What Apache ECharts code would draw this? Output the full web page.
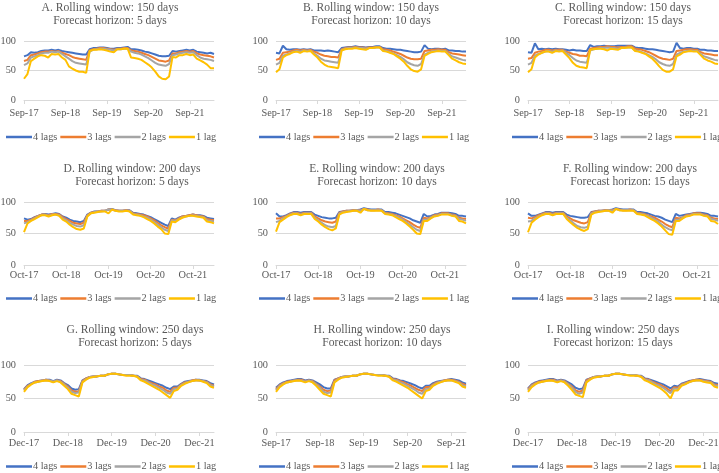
<!DOCTYPE html>
<html><head><meta charset="utf-8">
<script src="https://cdn.jsdelivr.net/npm/echarts@6/dist/echarts.min.js"></script>
<style>html,body{margin:0;padding:0;background:#fff}#c{width:719px;height:473px}</style>
</head><body><div id="c"></div>
<script>
// ---- Categories (monthly) ----
const catSep17 = ["Sep-17","Oct-17","Nov-17","Dec-17",
 "Jan-18","Feb-18","Mar-18","Apr-18","May-18","Jun-18","Jul-18","Aug-18","Sep-18","Oct-18","Nov-18","Dec-18",
 "Jan-19","Feb-19","Mar-19","Apr-19","May-19","Jun-19","Jul-19","Aug-19","Sep-19","Oct-19","Nov-19","Dec-19",
 "Jan-20","Feb-20","Mar-20","Apr-20","May-20","Jun-20","Jul-20","Aug-20","Sep-20","Oct-20","Nov-20","Dec-20",
 "Jan-21","Feb-21","Mar-21","Apr-21","May-21","Jun-21","Jul-21","Aug-21","Sep-21","Oct-21","Nov-21","Dec-21",
 "Jan-22","Feb-22","Mar-22","Apr-22"];
const catOct17 = ["Oct-17","Nov-17","Dec-17",
 "Jan-18","Feb-18","Mar-18","Apr-18","May-18","Jun-18","Jul-18","Aug-18","Sep-18","Oct-18","Nov-18","Dec-18",
 "Jan-19","Feb-19","Mar-19","Apr-19","May-19","Jun-19","Jul-19","Aug-19","Sep-19","Oct-19","Nov-19","Dec-19",
 "Jan-20","Feb-20","Mar-20","Apr-20","May-20","Jun-20","Jul-20","Aug-20","Sep-20","Oct-20","Nov-20","Dec-20",
 "Jan-21","Feb-21","Mar-21","Apr-21","May-21","Jun-21","Jul-21","Aug-21","Sep-21","Oct-21","Nov-21","Dec-21",
 "Jan-22","Feb-22","Mar-22","Apr-22"];
const catDec17 = ["Dec-17",
 "Jan-18","Feb-18","Mar-18","Apr-18","May-18","Jun-18","Jul-18","Aug-18","Sep-18","Oct-18","Nov-18","Dec-18",
 "Jan-19","Feb-19","Mar-19","Apr-19","May-19","Jun-19","Jul-19","Aug-19","Sep-19","Oct-19","Nov-19","Dec-19",
 "Jan-20","Feb-20","Mar-20","Apr-20","May-20","Jun-20","Jul-20","Aug-20","Sep-20","Oct-20","Nov-20","Dec-20",
 "Jan-21","Feb-21","Mar-21","Apr-21","May-21","Jun-21","Jul-21","Aug-21","Sep-21","Oct-21","Nov-21","Dec-21",
 "Jan-22","Feb-22","Mar-22","Apr-22"];
const catSep17H = ["Sep-17","Oct-17","Nov-17","Dec-17",
 "Jan-18","Feb-18","Mar-18","Apr-18","May-18","Jun-18","Jul-18","Aug-18","Sep-18","Oct-18","Nov-18","Dec-18",
 "Jan-19","Feb-19","Mar-19","Apr-19","May-19","Jun-19","Jul-19","Aug-19","Sep-19","Oct-19","Nov-19","Dec-19",
 "Jan-20","Feb-20","Mar-20","Apr-20","May-20","Jun-20","Jul-20","Aug-20","Sep-20","Oct-20","Nov-20","Dec-20",
 "Jan-21","Feb-21","Mar-21","Apr-21","May-21","Jun-21","Jul-21","Aug-21","Sep-21","Oct-21","Nov-21","Dec-21",
 "Jan-22"];

const seriesNames = ["4 lags","3 lags","2 lags","1 lag"];
const panelTitles = [
 "A. Rolling window: 150 days\nForecast horizon: 5 days",
 "B. Rolling window: 150 days\nForecast horizon: 10 days",
 "C. Rolling window: 150 days\nForecast horizon: 15 days",
 "D. Rolling window: 200 days\nForecast horizon: 5 days",
 "E. Rolling window: 200 days\nForecast horizon: 10 days",
 "F. Rolling window: 200 days\nForecast horizon: 15 days",
 "G. Rolling window: 250 days\nForecast horizon: 5 days",
 "H. Rolling window: 250 days\nForecast horizon: 10 days",
 "I. Rolling window: 250 days\nForecast horizon: 15 days"];
const yTicks = [0, 50, 100];

// ---- Values (accuracy %) ----
const A4 = [74,76,81,80,81,83,84,84,85,84, 85,83,82,81,80,79,78,77,77,86, 88,88,89,89,88,87,87,88,88,89, 90,86,86,85,84,82,81,79,77,75, 74,74,75,83,82,83,84,85,84,85, 82,81,80,79,80,78];
const A3 = [66,68,76,77,79,81,82,82,83,82, 83,80,78,76,73,71,70,69,68,84, 86,87,88,88,87,86,85,87,87,88, 88,84,83,82,80,78,76,73,70,67, 66,65,67,79,79,81,82,83,82,83, 79,77,76,75,74,72];
const A2 = [59,62,72,74,76,79,80,80,82,81, 82,78,74,70,66,63,62,61,60,82, 85,86,87,87,86,85,84,86,86,87, 87,82,80,79,77,74,71,67,63,60, 59,58,61,76,77,79,80,81,80,81, 76,72,70,69,68,66];
const A1 = [36,44,66,70,74,76,75,72,78,77, 78,72,68,57,53,50,48,48,46,83, 85,85,86,85,84,82,81,86,86,87, 87,72,71,70,68,64,60,55,48,40, 36,35,40,73,72,76,76,78,76,77, 70,67,64,60,54,54];

const B4 = [80,79,92,86,85,86,86,85,86,85, 86,84,84,84,83,84,83,82,81,88, 89,90,90,91,90,90,89,90,90,91, 91,88,87,87,86,85,85,84,83,82, 81,81,82,93,87,86,87,87,86,87, 84,84,83,83,82,82];
const B3 = [68,70,80,81,82,84,85,84,85,84, 85,82,80,77,75,74,73,73,72,86, 88,89,89,90,89,89,88,89,89,90, 90,86,85,84,82,80,78,75,72,70, 69,69,70,83,84,85,85,86,85,85, 81,79,78,77,76,75];
const B2 = [60,63,75,77,79,82,83,82,84,83, 84,79,75,70,67,66,65,64,63,85, 87,88,88,89,88,88,87,88,88,89, 89,84,83,81,79,76,73,69,64,61, 59,58,61,77,80,82,83,84,83,83, 78,74,72,70,68,67];
const B1 = [47,52,72,76,78,81,82,80,83,82, 83,77,72,65,60,57,56,55,54,84, 86,87,87,88,87,86,85,88,88,89, 89,83,82,80,78,74,70,65,58,52, 49,48,52,75,78,81,82,83,82,82, 76,70,67,64,62,61];

const C4 = [81,80,96,86,87,86,87,86,87,86, 86,85,84,85,84,84,83,83,93,90, 91,91,92,91,91,91,92,92,92,92, 92,89,88,88,87,86,86,85,84,83, 82,81,82,97,88,87,88,88,87,87, 85,85,84,84,83,83];
const C3 = [70,71,80,82,83,85,85,84,85,85, 85,82,80,78,77,75,75,74,87,88, 89,90,90,91,90,90,89,90,90,91, 91,87,86,85,83,81,78,75,72,70, 69,68,70,83,84,85,86,86,85,85, 81,79,78,77,76,76];
const C2 = [60,63,75,78,80,82,83,82,84,83, 84,80,76,71,67,65,64,63,84,86, 87,88,88,89,88,88,87,88,89,89, 89,84,83,81,79,76,73,69,64,61, 59,58,61,77,80,82,83,84,83,83, 78,74,72,70,68,67];
const C1 = [47,52,72,77,80,82,82,80,83,82, 83,77,71,63,58,56,55,54,85,86, 87,87,86,84,87,86,85,88,88,89, 89,83,82,80,78,74,70,64,57,51, 48,48,52,74,77,81,82,83,82,82, 76,70,67,65,62,61];

const D4 = [74,72,73,76,78,80,81,80,81,82, 81,77,75,72,70,69,68,70,80,83, 85,85,86,86,88,89,87,86,86,87, 87,83,82,81,80,78,76,73,70,67, 64,62,74,72,75,77,78,79,80,79, 79,78,75,74,73];
const D3 = [70,70,72,75,78,80,80,79,81,81, 80,76,73,70,67,66,65,67,79,83, 84,85,86,86,88,88,87,86,86,87, 86,82,81,80,79,77,74,71,67,63, 60,58,72,71,74,77,78,79,80,79, 78,77,73,72,71];
const D2 = [66,68,71,74,77,79,80,78,80,80, 79,74,71,67,64,62,61,63,78,82, 84,85,85,86,88,88,86,86,86,86, 86,81,80,79,77,75,72,68,64,60, 56,54,71,70,73,76,77,78,79,78, 77,76,71,70,69];
const D1 = [52,66,70,73,76,79,79,77,79,80, 78,72,69,64,60,57,56,58,77,82, 83,84,85,85,82,88,86,85,85,86, 85,80,79,78,76,73,70,66,61,57, 50,49,69,68,72,75,77,78,78,77, 76,75,69,68,66];

const E4 = [82,77,77,79,82,84,84,83,84,84, 84,80,78,76,75,74,74,75,84,85, 86,86,87,87,88,90,89,88,88,88, 88,84,84,83,82,80,78,76,74,71, 69,67,81,77,78,80,81,83,83,83, 82,81,78,78,77];
const E3 = [74,74,76,78,81,83,83,81,83,83, 83,77,74,71,69,68,67,69,83,85, 86,86,87,87,87,89,88,87,87,88, 87,83,82,81,79,77,74,71,68,64, 61,59,75,74,76,79,80,82,82,82, 80,79,75,74,73];
const E2 = [68,70,74,77,80,82,82,80,82,82, 82,75,71,67,63,61,60,62,82,84, 85,86,86,87,86,89,87,87,87,87, 87,82,81,80,78,75,72,68,64,60, 56,54,72,72,75,78,79,81,81,81, 79,78,73,72,70];
const E1 = [53,68,72,76,79,81,81,79,81,81, 81,73,69,64,60,57,55,58,80,83, 84,85,86,86,83,89,87,86,86,86, 86,81,80,79,76,73,70,66,61,56, 50,49,70,70,74,77,78,80,80,80, 78,77,70,69,66];

const F4 = [82,78,78,80,82,84,84,83,84,84, 84,80,78,77,76,75,75,76,84,85, 86,86,87,87,88,90,89,88,88,88, 88,84,84,83,82,80,78,77,75,72, 70,68,81,78,79,80,81,82,83,83, 82,81,78,78,77];
const F3 = [75,74,76,79,81,83,83,81,83,83, 83,77,74,71,69,67,66,68,83,85, 86,86,87,87,87,89,88,87,87,88, 87,83,82,81,79,77,75,72,69,65, 62,60,75,74,76,79,80,82,82,82, 80,79,75,74,73];
const F2 = [69,70,74,77,80,82,82,80,82,82, 82,75,71,66,62,60,59,61,82,84, 85,86,86,87,86,89,87,87,87,87, 87,82,81,80,78,75,72,69,64,60, 57,55,72,72,75,78,79,81,81,81, 79,78,73,72,70];
const F1 = [52,67,72,76,79,81,81,79,81,81, 81,73,68,63,59,56,54,57,80,83, 84,85,86,86,83,89,87,86,86,86, 86,81,80,79,76,73,70,66,61,55, 49,48,70,70,74,77,78,80,80,80, 78,77,70,69,65];

const G4 = [64,70,73,75,76,77,78,78,76,78, 77,73,70,65,63,64,77,80,82,83, 83,84,84,86,87,87,86,85,85,85, 84,84,80,79,77,75,73,71,69,66, 64,68,68,72,75,76,77,78,78,77, 76,73,71];
const G3 = [63,69,72,75,76,77,78,77,75,77, 76,72,68,62,60,61,76,80,82,83, 83,84,84,86,87,87,86,85,85,85, 84,83,79,78,75,73,71,68,66,62, 60,66,66,71,74,75,77,78,77,76, 75,71,69];
const G2 = [62,68,72,74,75,77,77,77,75,77, 75,71,66,60,58,59,75,79,82,83, 83,84,84,86,87,87,86,85,85,85, 84,83,78,77,74,71,69,66,63,59, 57,64,65,70,73,75,76,77,77,76, 74,70,68];
const G1 = [60,67,71,74,75,76,77,76,74,76, 74,69,64,57,55,53,74,78,81,82, 83,84,84,86,87,87,86,85,84,84, 84,82,77,75,72,69,66,63,59,55, 51,61,63,69,72,74,76,77,77,75, 73,68,66];

const H4 = [66,71,74,76,77,78,79,79,77,78, 77,74,71,67,65,65,78,80,82,83, 83,84,84,86,87,87,86,85,85,85, 84,84,80,79,77,76,74,72,70,67, 65,69,69,73,75,76,77,78,79,78, 77,74,72];
const H3 = [64,70,73,75,76,77,78,78,76,77, 76,72,68,63,61,62,77,80,82,83, 83,84,84,86,87,87,86,85,85,85, 84,83,79,78,76,74,71,69,66,63, 61,67,67,71,74,75,77,78,78,77, 75,72,70];
const H2 = [62,69,72,74,75,77,77,77,75,77, 75,71,66,60,58,59,75,79,82,83, 83,84,84,86,87,87,86,85,85,85, 84,83,78,77,74,72,69,66,63,59, 57,64,65,70,73,75,76,77,77,76, 74,70,68];
const H1 = [60,67,71,74,75,76,77,76,74,76, 74,69,63,57,55,53,74,78,81,82, 83,84,84,86,87,87,86,85,84,84, 84,82,77,75,72,69,66,62,58,54, 50,61,63,69,72,74,76,77,77,75, 73,68,66];

const I4 = [65,71,74,76,77,78,79,79,77,78, 77,74,71,66,64,65,78,80,82,83, 83,84,84,86,87,87,86,85,85,85, 84,84,80,79,77,75,73,71,68,65, 69,68,72,74,76,77,78,79,78,77, 76,73,72];
const I3 = [64,70,73,75,76,77,78,78,76,77, 76,72,68,62,60,62,77,80,82,83, 83,84,84,86,87,87,86,85,85,85, 84,83,79,78,75,73,71,68,65,61, 67,66,71,73,75,77,78,78,77,76, 75,71,70];
const I2 = [62,69,72,74,75,77,77,77,75,77, 75,71,66,60,57,59,75,79,82,83, 83,84,84,86,87,87,86,85,85,85, 84,83,78,77,74,71,69,66,62,58, 65,64,70,72,74,76,77,77,76,75, 74,70,68];
const I1 = [60,67,71,74,75,76,77,76,74,76, 74,69,63,56,54,52,74,78,81,82, 83,84,84,86,87,87,86,85,84,84, 84,82,77,75,72,69,66,62,57,50, 62,62,69,71,74,76,77,77,75,74, 73,68,66];

const panelCats = [catSep17, catSep17, catSep17, catOct17, catOct17, catOct17, catDec17, catSep17H, catDec17];
const panelData = [[A4,A3,A2,A1],[B4,B3,B2,B1],[C4,C3,C2,C1],[D4,D3,D2,D1],[E4,E3,E2,E1],[F4,F3,F2,F1],[G4,G3,G2,G1],[H4,H3,H2,H1],[I4,I3,I2,I1]];

// ---- Layout / style ----
const FONT = "'Liberation Serif','Times New Roman',serif";
const TXT = '#595959';
const COLORS = ['#4472C4','#ED7D31','#A5A5A5','#FFC000'];
const colLeft = [24, 276, 528];
const colWidth = [190, 190, 190];
const rowTop = [41, 202, 365];
const rowHeight = [59, 63, 67];
const rowTitleTop = [1, 162.5, 323.5];
const rowLegendTop = [132, 293.5, 461.5];
const rowXMargin = [8, 5, 6];
const legendLeft = [6, 259, 512];
const titleCenter = [110, 371, 623, 132, 377, 630, 135, 382, 613];
const everyYear = (idx) => idx % 12 === 0;

const titles = [], grids = [], xAxes = [], yAxes = [], legends = [], series = [];
for (let i = 0; i < 9; i++) {
  const r = Math.floor(i / 3), c = i % 3;
  titles.push({text: panelTitles[i], left: titleCenter[i], top: rowTitleTop[r], textAlign: 'center', padding: 0,
    textStyle: {fontFamily: FONT, fontSize: 11.6, fontWeight: 'normal', color: TXT, lineHeight: 13}});
  grids.push({left: colLeft[c], top: rowTop[r], width: colWidth[c], height: rowHeight[r], containLabel: false, outerBoundsMode: 'none'});
  xAxes.push({type: 'category', gridIndex: i, data: panelCats[i], boundaryGap: false,
    axisLine: {show: true, lineStyle: {color: '#D9D9D9', width: 1}},
    axisTick: {show: true, interval: everyYear, length: 4, lineStyle: {color: '#D9D9D9'}},
    axisLabel: {interval: everyYear, margin: rowXMargin[r], color: TXT, fontFamily: FONT, fontSize: 10.3, hideOverlap: false},
    splitLine: {show: false}});
  yAxes.push({type: 'value', gridIndex: i, min: yTicks[0], max: yTicks[2], interval: 50,
    axisLine: {show: false}, axisTick: {show: false},
    axisLabel: {margin: 8, color: TXT, fontFamily: FONT, fontSize: 10.3},
    splitLine: {show: true, lineStyle: {color: '#D9D9D9', width: 1}}});
  legends.push({left: legendLeft[c], top: rowLegendTop[r], width: 260, orient: 'horizontal', padding: 0,
    itemWidth: 26, itemHeight: 2.5, itemGap: 3, icon: 'rect', selectedMode: false,
    textStyle: {fontFamily: FONT, fontSize: 10.3, color: TXT, padding: [0, 0, 0, -4]},
    data: seriesNames.slice()});
  panelData[i].forEach((arr, k) => {
    series.push({type: 'line', name: seriesNames[k], xAxisIndex: i, yAxisIndex: i, data: arr,
      symbol: 'none', showSymbol: false, z: 2 + k,
      lineStyle: {color: COLORS[k], width: 2}, itemStyle: {color: COLORS[k]}});
  });
}

const chart = echarts.init(document.getElementById('c'), null, {renderer: 'canvas'});
chart.setOption({
  backgroundColor: '#ffffff', animation: false,
  title: titles, grid: grids, xAxis: xAxes, yAxis: yAxes, legend: legends, series: series
});
</script></body></html>
